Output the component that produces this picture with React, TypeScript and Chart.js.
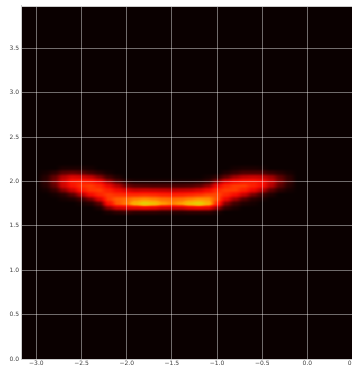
import React, { useEffect, useRef } from "react";
import { Chart, registerables } from "chart.js";

Chart.register(...registerables);

// Bin centres of the density grid
const X_CENTERS = [
  -2.9, -2.8, -2.7, -2.6, -2.5, -2.4, -2.3, -2.2, -2.1, -2.0, -1.9, -1.8, -1.7, -1.6,
  -1.5, -1.4, -1.3, -1.2, -1.1, -1.0, -0.9, -0.8, -0.7, -0.6, -0.5, -0.4, -0.3, -0.2,
];
const Y_CENTERS = [1.6, 1.65, 1.7, 1.75, 1.8, 1.85, 1.9, 1.95, 2.0, 2.05, 2.1, 2.15];

// One column per x centre; values for each y centre (bottom to top), 0..1
const DENSITY = [
  [0, 0, 0, 0, 0, 0, 0.02, 0.05, 0.07, 0.05, 0.02, 0],
  [0, 0, 0, 0, 0, 0.02, 0.08, 0.16, 0.2, 0.16, 0.06, 0],
  [0, 0, 0, 0, 0.02, 0.06, 0.22, 0.36, 0.38, 0.3, 0.14, 0.03],
  [0, 0, 0, 0, 0.04, 0.15, 0.35, 0.48, 0.5, 0.38, 0.16, 0.03],
  [0, 0, 0, 0.02, 0.1, 0.3, 0.5, 0.56, 0.52, 0.36, 0.14, 0.03],
  [0, 0, 0, 0.05, 0.2, 0.45, 0.57, 0.58, 0.5, 0.32, 0.1, 0.02],
  [0, 0, 0.04, 0.15, 0.38, 0.54, 0.58, 0.54, 0.42, 0.22, 0.06, 0],
  [0, 0.03, 0.22, 0.48, 0.58, 0.58, 0.52, 0.42, 0.26, 0.1, 0.02, 0],
  [0, 0.06, 0.35, 0.63, 0.64, 0.56, 0.44, 0.3, 0.14, 0.04, 0, 0],
  [0, 0.08, 0.38, 0.68, 0.66, 0.55, 0.38, 0.18, 0.06, 0, 0, 0],
  [0, 0.06, 0.4, 0.8, 0.7, 0.55, 0.34, 0.14, 0.03, 0, 0, 0],
  [0, 0.06, 0.42, 0.92, 0.72, 0.56, 0.35, 0.13, 0.03, 0, 0, 0],
  [0, 0.06, 0.4, 0.85, 0.7, 0.55, 0.34, 0.12, 0.03, 0, 0, 0],
  [0, 0.05, 0.35, 0.74, 0.67, 0.53, 0.33, 0.12, 0.03, 0, 0, 0],
  [0, 0.05, 0.34, 0.7, 0.66, 0.52, 0.32, 0.12, 0.03, 0, 0, 0],
  [0, 0.05, 0.35, 0.74, 0.67, 0.53, 0.33, 0.12, 0.03, 0, 0, 0],
  [0, 0.06, 0.4, 0.85, 0.7, 0.55, 0.34, 0.13, 0.03, 0, 0, 0],
  [0, 0.06, 0.42, 0.92, 0.73, 0.57, 0.38, 0.16, 0.04, 0, 0, 0],
  [0, 0.06, 0.4, 0.8, 0.72, 0.6, 0.45, 0.24, 0.08, 0.02, 0, 0],
  [0, 0.03, 0.25, 0.55, 0.62, 0.6, 0.55, 0.42, 0.22, 0.06, 0, 0],
  [0, 0, 0.08, 0.22, 0.42, 0.54, 0.58, 0.54, 0.38, 0.16, 0.04, 0],
  [0, 0, 0.03, 0.1, 0.26, 0.46, 0.58, 0.58, 0.46, 0.26, 0.08, 0.02],
  [0, 0, 0, 0.04, 0.14, 0.34, 0.52, 0.58, 0.5, 0.32, 0.12, 0.03],
  [0, 0, 0, 0.02, 0.06, 0.2, 0.42, 0.52, 0.5, 0.34, 0.12, 0.03],
  [0, 0, 0, 0, 0.03, 0.1, 0.3, 0.45, 0.46, 0.32, 0.12, 0.02],
  [0, 0, 0, 0, 0, 0.04, 0.15, 0.3, 0.34, 0.26, 0.08, 0],
  [0, 0, 0, 0, 0, 0, 0.06, 0.15, 0.2, 0.15, 0.05, 0],
  [0, 0, 0, 0, 0, 0, 0.02, 0.05, 0.08, 0.06, 0.02, 0],
];

const X_TICKS = [-3.0, -2.5, -2.0, -1.5, -1.0, -0.5, 0.0, 0.5];
const Y_TICKS = [0.0, 0.5, 1.0, 1.5, 2.0, 2.5, 3.0, 3.5];
const X_MIN = -3.17;
const X_MAX = 0.5;
const Y_MIN = 0;
const Y_MAX = 3.98;

// colour map stops: [value, r, g, b]
const COLOR_STOPS: number[][] = [
  [0.0, 10, 0, 0],
  [0.15, 90, 0, 0],
  [0.3, 180, 0, 0],
  [0.45, 245, 10, 0],
  [0.55, 255, 40, 0],
  [0.65, 255, 100, 0],
  [0.75, 255, 160, 0],
  [0.88, 235, 200, 0],
  [1.0, 210, 215, 20],
];

function colorFor(v: number): [number, number, number] {
  if (v <= 0) return [COLOR_STOPS[0][1], COLOR_STOPS[0][2], COLOR_STOPS[0][3]];
  for (let i = 1; i < COLOR_STOPS.length; i++) {
    const a = COLOR_STOPS[i - 1];
    const b = COLOR_STOPS[i];
    if (v <= b[0]) {
      const t = (v - a[0]) / (b[0] - a[0]);
      return [a[1] + (b[1] - a[1]) * t, a[2] + (b[2] - a[2]) * t, a[3] + (b[3] - a[3]) * t];
    }
  }
  const l = COLOR_STOPS[COLOR_STOPS.length - 1];
  return [l[1], l[2], l[3]];
}

function sample(x: number, y: number): number {
  const nx = X_CENTERS.length;
  const ny = Y_CENTERS.length;
  const dx = X_CENTERS[1] - X_CENTERS[0];
  const dy = Y_CENTERS[1] - Y_CENTERS[0];
  const fx = (x - X_CENTERS[0]) / dx;
  const fy = (y - Y_CENTERS[0]) / dy;
  const i0 = Math.floor(fx);
  const j0 = Math.floor(fy);
  if (i0 < -1 || j0 < -1 || i0 >= nx || j0 >= ny) return 0;
  let tx = fx - i0;
  let ty = fy - j0;
  tx = tx * tx * (3 - 2 * tx);
  ty = ty * ty * (3 - 2 * ty);
  const g = (i: number, j: number) => (i < 0 || j < 0 || i >= nx || j >= ny ? 0 : DENSITY[i][j]);
  return (
    (1 - tx) * (1 - ty) * g(i0, j0) +
    tx * (1 - ty) * g(i0 + 1, j0) +
    (1 - tx) * ty * g(i0, j0 + 1) +
    tx * ty * g(i0 + 1, j0 + 1)
  );
}

const heatmapPlugin = {
  id: "heatmap",
  beforeDraw(chart: any) {
    const { ctx, chartArea, scales } = chart;
    const left = Math.round(chartArea.left);
    const top = Math.round(chartArea.top);
    const w = Math.round(chartArea.right) - left;
    const h = Math.round(chartArea.bottom) - top;
    const img = ctx.createImageData(w, h);
    const d = img.data;
    const xs: number[] = [];
    for (let px = 0; px < w; px++) xs.push(scales.x.getValueForPixel(left + px + 0.5));
    for (let py = 0; py < h; py++) {
      const yv = scales.y.getValueForPixel(top + py + 0.5);
      for (let px = 0; px < w; px++) {
        const v = sample(xs[px], yv);
        const c = colorFor(v);
        const k = (py * w + px) * 4;
        d[k] = c[0];
        d[k + 1] = c[1];
        d[k + 2] = c[2];
        d[k + 3] = 255;
      }
    }
    ctx.putImageData(img, left, top);
  },
  afterDraw(chart: any) {
    const { ctx, chartArea } = chart;
    ctx.save();
    ctx.strokeStyle = "#cccccc";
    ctx.lineWidth = 1;
    ctx.beginPath();
    ctx.moveTo(chartArea.left, Math.round(chartArea.top) + 0.5);
    ctx.lineTo(chartArea.right, Math.round(chartArea.top) + 0.5);
    ctx.stroke();
    ctx.restore();
  },
};

const CANVAS_W = 380;
const CANVAS_H = 371;

export default function App() {
  const ref = useRef<HTMLCanvasElement | null>(null);
  useEffect(() => {
    document.body.style.margin = "0";
    document.body.style.overflow = "hidden";
    const canvas = ref.current!;
    const cells: any[] = [];
    X_CENTERS.forEach((x, i) => Y_CENTERS.forEach((y, j) => cells.push({ x, y, v: DENSITY[i][j] })));
    const font = { family: "DejaVu Sans", size: 6 };
    const chart = new Chart(canvas, {
      type: "scatter",
      data: {
        datasets: [{ data: cells, pointRadius: 0, pointHoverRadius: 0, showLine: false }],
      },
      plugins: [heatmapPlugin],
      options: {
        animation: false,
        responsive: false,
        devicePixelRatio: 1,
        events: [],
        layout: { padding: { top: 1, right: CANVAS_W - 352.5, left: 0, bottom: 0 }, autoPadding: false },
        plugins: { legend: { display: false }, tooltip: { enabled: false } },
        scales: {
          x: {
            type: "linear",
            min: X_MIN,
            max: X_MAX,
            afterBuildTicks: (s: any) => {
              s.ticks = X_TICKS.map((v) => ({ value: v }));
            },
            afterFit: (s: any) => {
              s.height = 12;
            },
            ticks: {
              font,
              color: "#444444",
              padding: 1,
              maxRotation: 0,
              autoSkip: false,
              callback: (v: any) => Number(v).toFixed(1).replace("-", "\u2212"),
            },
            grid: { color: "rgba(255,255,255,0.42)", lineWidth: 1, drawTicks: false },
            border: { color: "#cccccc", width: 1 },
          },
          y: {
            type: "linear",
            min: Y_MIN,
            max: Y_MAX,
            afterBuildTicks: (s: any) => {
              s.ticks = Y_TICKS.map((v) => ({ value: v }));
            },
            afterFit: (s: any) => {
              s.width = 21;
            },
            ticks: {
              font,
              color: "#444444",
              padding: 2,
              autoSkip: false,
              callback: (v: any) => Number(v).toFixed(1).replace("-", "\u2212"),
            },
            grid: { color: "rgba(255,255,255,0.42)", lineWidth: 1, drawTicks: false },
            border: { color: "#cccccc", width: 1 },
          },
        },
      },
    } as any);
    return () => chart.destroy();
  }, []);
  return (
    <div style={{ width: 352, height: CANVAS_H, overflow: "hidden" }}>
      <canvas ref={ref} width={CANVAS_W} height={CANVAS_H} style={{ display: "block", width: CANVAS_W, height: CANVAS_H }} />
    </div>
  );
}
